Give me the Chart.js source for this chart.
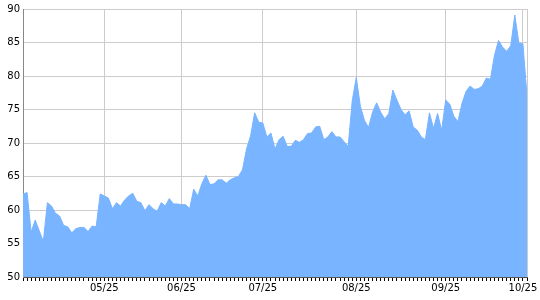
<!DOCTYPE html>
<html>
<head>
<meta charset="utf-8">
<script src="https://cdn.jsdelivr.net/npm/chart.js@4.4.1/dist/chart.umd.min.js"></script>
<style>
  html, body { margin: 0; padding: 0; background: #fff; }
  #chart { display: block; }
</style>
</head>
<body>
<canvas id="chart" width="540" height="300"></canvas>
<script>
// Datos de la serie (un punto por sesión)
const valores = [
    62.4, 62.6, 56.7, 58.5, 56.9, 55.3, 61.1, 60.6, 59.5, 59.1,
    57.7, 57.5, 56.6, 57.2, 57.4, 57.4, 56.8, 57.6, 57.5, 62.4,
    62.1, 61.8, 60.2, 61.1, 60.6, 61.5, 62.1, 62.5, 61.3, 61.1,
    59.9, 60.8, 60.2, 59.8, 61.1, 60.6, 61.7, 60.9, 60.9, 60.8,
    60.8, 60.2, 63.1, 62.1, 63.9, 65.2, 63.8, 63.9, 64.5, 64.5,
    64.0, 64.5, 64.8, 65.0, 66.0, 69.1, 71.1, 74.5, 73.1, 73.0,
    70.9, 71.5, 69.1, 70.5, 71.0, 69.5, 69.5, 70.4, 70.1, 70.5,
    71.4, 71.5, 72.4, 72.5, 70.5, 70.9, 71.7, 70.9, 70.9, 70.2,
    69.5, 76.3, 79.8, 75.5, 73.4, 72.3, 74.6, 76.0, 74.6, 73.6,
    74.4, 77.9, 76.4, 75.0, 74.2, 74.8, 72.4, 71.9, 70.9, 70.5,
    74.5, 72.2, 74.4, 71.9, 76.4, 75.8, 74.0, 73.2, 75.9, 77.7,
    78.5, 78.0, 78.1, 78.5, 79.7, 79.5, 83.1, 85.3, 84.3, 83.7,
    84.5, 89.1, 84.9, 84.8, 77.0
];

// Etiquetas del eje X (mes) y el punto donde aparecen
const mesesEtiquetas = ['05/25', '06/25', '07/25', '08/25', '09/25', '10/25'];
const mesesIndices = [20, 39, 59, 82, 104, 123];

// Eje Y
const Y_MIN = 50;
const Y_MAX = 90;
const Y_STEP = 5;

// Colores
const COLOR_AREA = '#78b4ff';
const COLOR_GRID = '#cccccc';

const etiquetas = valores.map((v, i) => {
    const k = mesesIndices.indexOf(i);
    return k >= 0 ? mesesEtiquetas[k] : '';
});

// Borde derecho del área de trazado
const bordeDerecho = {
    id: 'bordeDerecho',
    afterDraw(chart) {
        const { ctx, chartArea } = chart;
        const x = Math.round(chartArea.right) + 0.5;
        ctx.save();
        ctx.strokeStyle = COLOR_GRID;
        ctx.lineWidth = 1;
        ctx.beginPath();
        ctx.moveTo(x, chartArea.top);
        ctx.lineTo(x, chartArea.bottom);
        ctx.stroke();
        ctx.restore();
    }
};

Chart.defaults.font.family = '"DejaVu Sans", Verdana, sans-serif';
Chart.defaults.font.size = 10;
Chart.defaults.color = '#000';

const ctx = document.getElementById('chart').getContext('2d');
new Chart(ctx, {
    type: 'line',
    data: {
        labels: etiquetas,
        datasets: [{
            data: valores,
            borderColor: COLOR_AREA,
            backgroundColor: COLOR_AREA,
            borderWidth: 1,
            fill: 'start',
            tension: 0,
            pointRadius: 0
        }]
    },
    options: {
        responsive: false,
        animation: false,
        layout: {
            padding: { top: 8, right: 13, bottom: 0, left: 0 }
        },
        plugins: {
            legend: { display: false },
            tooltip: { enabled: false }
        },
        scales: {
            x: {
                type: 'category',
                offset: false,
                afterFit: (scale) => { scale.height = 23; },
                border: { color: '#555' },
                grid: {
                    color: (c) => (etiquetas[c.index] ? COLOR_GRID : 'rgba(0,0,0,0)'),
                    tickColor: '#000',
                    tickLength: 4,
                    drawTicks: true
                },
                ticks: {
                    autoSkip: false,
                    maxRotation: 0,
                    minRotation: 0,
                    padding: 1
                }
            },
            y: {
                min: Y_MIN,
                max: Y_MAX,
                afterFit: (scale) => { scale.width = 23; },
                border: { color: '#888' },
                grid: {
                    color: COLOR_GRID,
                    drawTicks: false
                },
                ticks: {
                    stepSize: Y_STEP,
                    padding: 3
                }
            }
        }
    },
    plugins: [bordeDerecho]
});
</script>
</body>
</html>
